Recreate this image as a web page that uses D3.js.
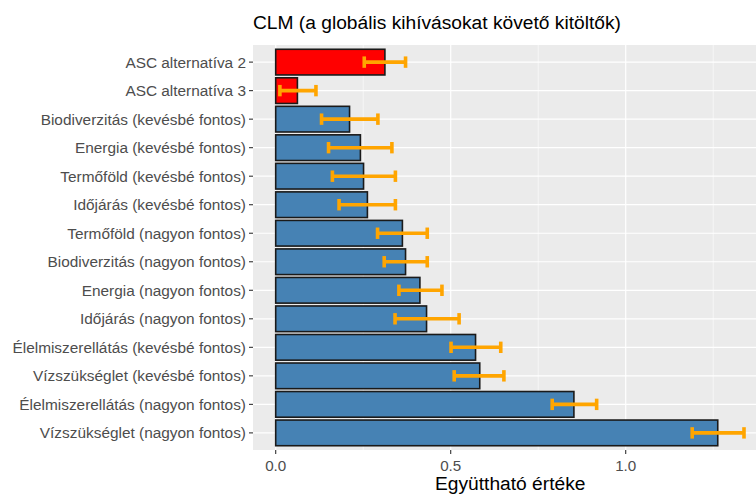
<!DOCTYPE html>
<html><head><meta charset="utf-8">
<script src="https://cdn.jsdelivr.net/npm/d3@7"></script>
<style>body{margin:0;background:#fff;}svg{display:block;font-family:"Liberation Sans",Arial,sans-serif;}</style>
</head><body>
<svg id="c" width="756" height="495"></svg>
<script>
const categories = ["ASC alternatíva 2","ASC alternatíva 3","Biodiverzitás (kevésbé fontos)","Energia (kevésbé fontos)","Termőföld (kevésbé fontos)","Időjárás (kevésbé fontos)","Termőföld (nagyon fontos)","Biodiverzitás (nagyon fontos)","Energia (nagyon fontos)","Időjárás (nagyon fontos)","Élelmiszerellátás (kevésbé fontos)","Vízszükséglet (kevésbé fontos)","Élelmiszerellátás (nagyon fontos)","Vízszükséglet (nagyon fontos)"];
const values = [0.312,0.062,0.211,0.242,0.251,0.262,0.362,0.371,0.412,0.431,0.571,0.583,0.852,1.263];
const lower  = [0.253,0.012,0.131,0.151,0.162,0.181,0.291,0.310,0.352,0.341,0.501,0.510,0.790,1.190];
const upper  = [0.371,0.115,0.292,0.332,0.342,0.342,0.433,0.433,0.475,0.524,0.643,0.652,0.917,1.338];
const groups = ["ASC","ASC","attr","attr","attr","attr","attr","attr","attr","attr","attr","attr","attr","attr"];
const xTicks = [0,0.5,1.0];
const xTickLabels = ["0.0","0.5","1.0"];
const xMinor = [0.25,0.75,1.25];
const title = "CLM (a globális kihívásokat követő kitöltők)";
const xTitle = "Együttható értéke";

const svg = d3.select("#c");
const pl = 253, pt = 45, pb = 450;
const dataMin = 0, dataMax = d3.max(upper);
const ex = (dataMax - dataMin) * 0.05;
const x0 = 275.7, k = 350;
const x = d3.scaleLinear().domain([dataMin - ex, dataMax + ex]).range([x0 - ex*k, x0 + (dataMax+ex)*k]);
const step = (pb - pt) / (categories.length - 1 + 1.2);
const yc = d3.scalePoint().domain(categories).range([pt + 0.6*step, pb - 0.6*step]);
const bh = step * 0.9;

const g = svg.append("g");
g.append("rect").attr("x", pl).attr("y", pt).attr("width", x.range()[1]-pl).attr("height", pb-pt).attr("fill", "#EBEBEB");
g.selectAll(".minor").data(xMinor).join("line").attr("x1", d=>x(d)).attr("x2", d=>x(d)).attr("y1", pt).attr("y2", pb).attr("stroke","#fff").attr("stroke-width",0.6);
g.selectAll(".major").data(xTicks).join("line").attr("x1", d=>x(d)).attr("x2", d=>x(d)).attr("y1", pt).attr("y2", pb).attr("stroke","#fff").attr("stroke-width",1.2);
g.selectAll(".hmaj").data(categories).join("line").attr("x1", pl).attr("x2", x.range()[1]).attr("y1", d=>yc(d)).attr("y2", d=>yc(d)).attr("stroke","#fff").attr("stroke-width",1.2);

g.selectAll(".bar").data(categories).join("rect")
 .attr("x", x(0)).attr("y", d=>yc(d)-bh/2)
 .attr("width", (d,i)=>x(values[i])-x(0)).attr("height", bh)
 .attr("fill", (d,i)=>groups[i]==="ASC" ? "#FF0000" : "#4682B4")
 .attr("stroke", "#1a1a1a").attr("stroke-width", 1.6);

const eb = g.append("g").attr("stroke","#FFA500").attr("stroke-width",3.6);
const capH = step*0.4/2;
categories.forEach((c,i)=>{
  const yy = yc(c);
  eb.append("line").attr("x1", x(lower[i])).attr("x2", x(upper[i])).attr("y1", yy).attr("y2", yy);
  eb.append("line").attr("x1", x(lower[i])).attr("x2", x(lower[i])).attr("y1", yy-capH).attr("y2", yy+capH);
  eb.append("line").attr("x1", x(upper[i])).attr("x2", x(upper[i])).attr("y1", yy-capH).attr("y2", yy+capH);
});

const ya = svg.append("g");
categories.forEach(c=>{
  ya.append("line").attr("x1", pl-4).attr("x2", pl).attr("y1", yc(c)).attr("y2", yc(c)).attr("stroke","#333").attr("stroke-width",1.1);
  ya.append("text").attr("x", pl-7).attr("y", yc(c)).attr("dy","0.35em").attr("text-anchor","end")
    .attr("font-size", 15.4).attr("fill","#4D4D4D").text(c);
});
const xa = svg.append("g");
xTicks.forEach((t,i)=>{
  xa.append("line").attr("x1", x(t)).attr("x2", x(t)).attr("y1", pb).attr("y2", pb+4).attr("stroke","#333").attr("stroke-width",1.1);
  xa.append("text").attr("x", x(t)).attr("y", pb+21).attr("text-anchor","middle").attr("font-size",15.2).attr("fill","#4D4D4D").text(xTickLabels[i]);
});
svg.append("text").attr("x", (pl + x.range()[1])/2).attr("y", 490).attr("text-anchor","middle").attr("font-size",19.2).attr("fill","#000").text(xTitle);
svg.append("text").attr("x", pl).attr("y", 29).attr("font-size",19.2).attr("fill","#000").text(title);
</script>
</body></html>
